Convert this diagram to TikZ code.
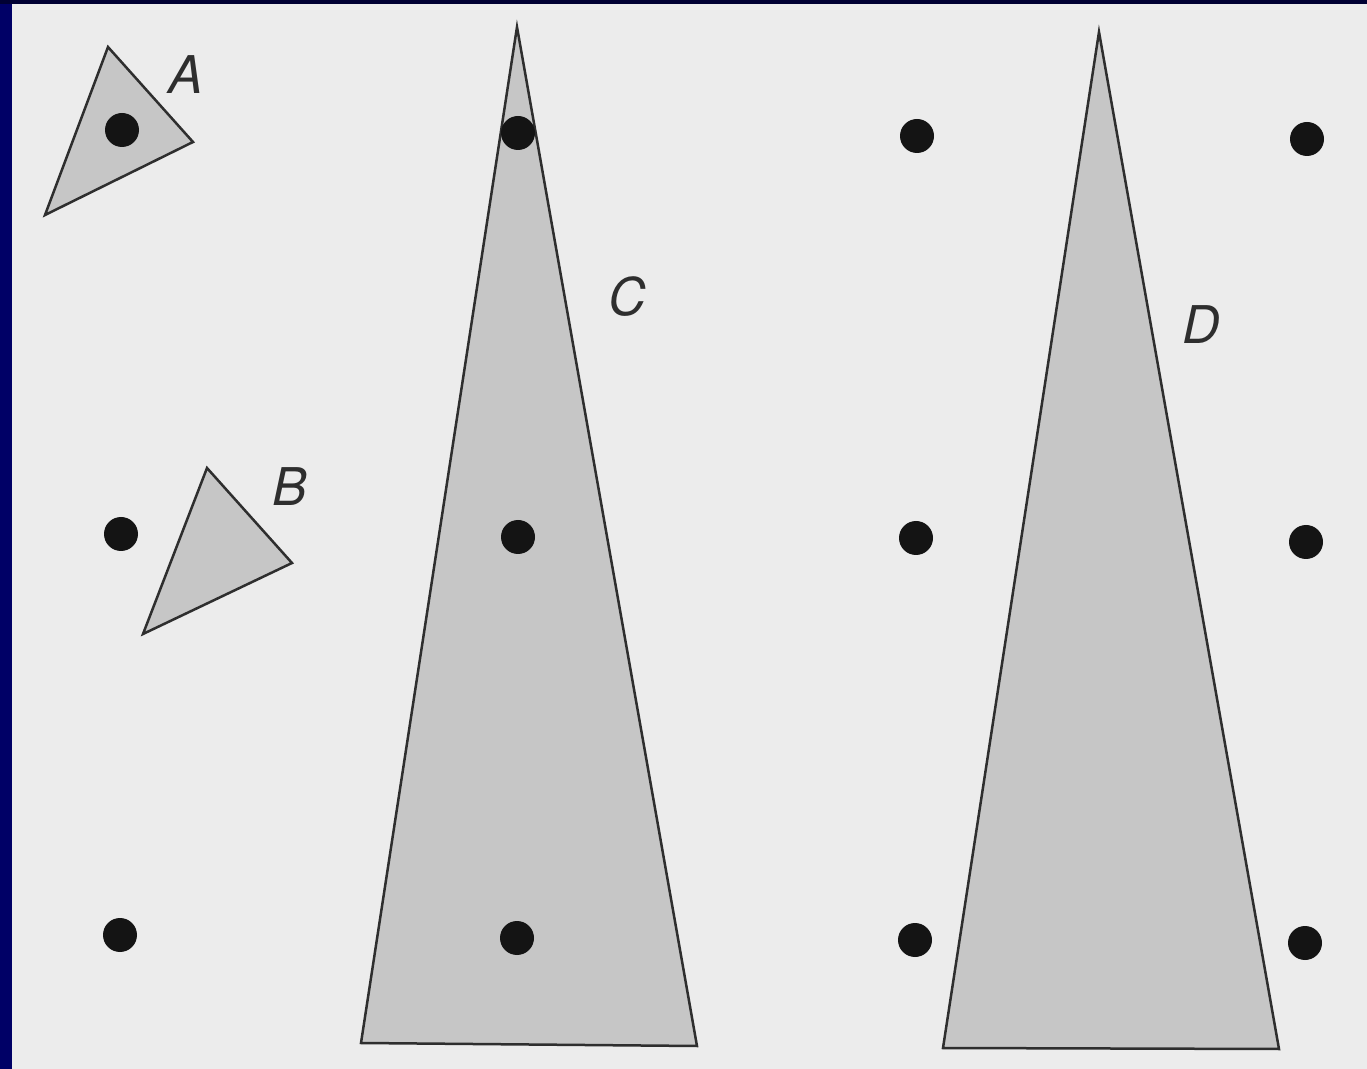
\documentclass[tikz,border=0pt]{standalone}
\usepackage{fontspec}
\setmainfont{TeX Gyre Heros}
\definecolor{bg}{HTML}{ECECEC}
\definecolor{navy}{HTML}{000066}
\definecolor{navytop}{HTML}{000033}
\definecolor{trifill}{HTML}{C6C6C6}
\definecolor{edge}{HTML}{2E2E2E}
\definecolor{dotc}{HTML}{141414}
\begin{document}
\begin{tikzpicture}[x=0.5pt,y=-0.5pt,
  tri/.style={fill=trifill,draw=edge,line width=1.25pt,line join=miter},
  dot/.style={circle,fill=dotc,inner sep=0pt,minimum size=17pt},
  lbl/.style={font=\fontsize{26}{30}\selectfont\itshape,text=edge,inner sep=0pt}]
\useasboundingbox (0,0) rectangle (1367,1069);
\fill[bg] (0,0) rectangle (1367,1069);
\fill[navy] (0,0) rectangle (12,1069);
\fill[navytop] (0,0) rectangle (1367,4);
% triangles
\draw[tri] (108,47) -- (193,142) -- (45,215) -- cycle;
\draw[tri] (207,468) -- (292,563) -- (143,634) -- cycle;
\draw[tri] (517,27) -- (697,1046) -- (361,1043) -- cycle;
\draw[tri] (1099,32) -- (1279,1049) -- (943,1048) -- cycle;
% sample points
\node[dot] (a1) at (122,130) {};
\node[dot] (b1) at (121,534) {};
\node[dot] (b2) at (120,935) {};
\node[dot] (c1) at (518,133) {};
\node[dot] (c2) at (518,537) {};
\node[dot] (c3) at (517,938) {};
\node[dot] (d1) at (917,136) {};
\node[dot] (d2) at (916,538) {};
\node[dot] (d3) at (915,940) {};
\node[dot] (e1) at (1307,139) {};
\node[dot] (e2) at (1306,542) {};
\node[dot] (e3) at (1305,943) {};
% labels
\node[lbl] (lA) at (186,75) {A};
\node[lbl] (lB) at (290,487) {B};
\node[lbl] (lC) at (627,297) {C};
\node[lbl] (lD) at (1201,325) {D};
\end{tikzpicture}
\end{document}
